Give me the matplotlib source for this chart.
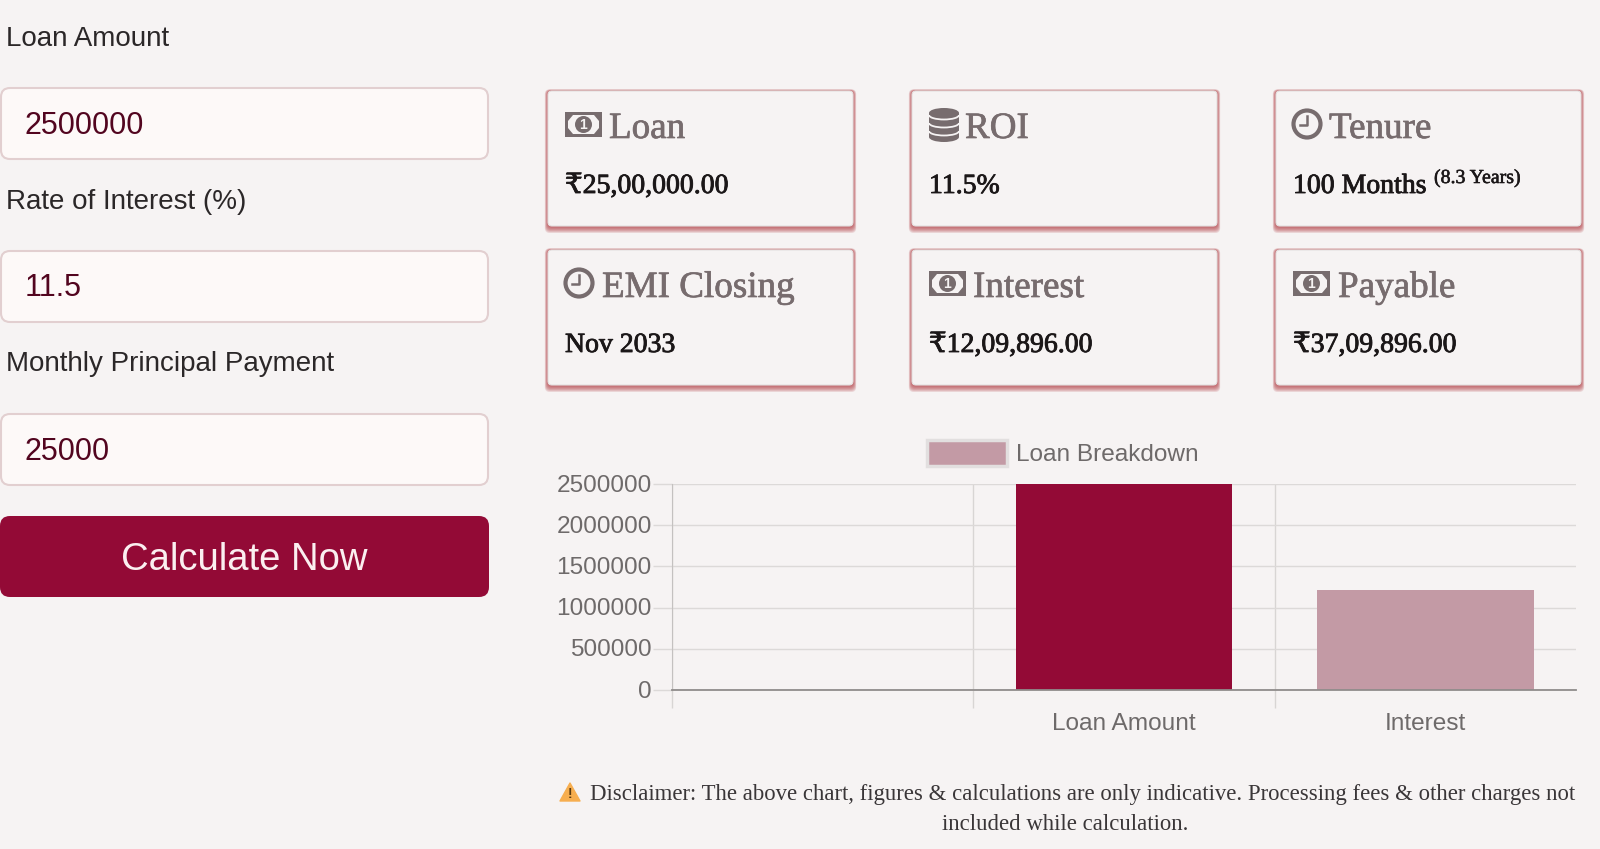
#!/usr/bin/env python3
"""Loan calculator screenshot: input form, summary cards and breakdown bar chart."""
import matplotlib
matplotlib.use("Agg")
import matplotlib.pyplot as plt
import matplotlib.patheffects as pe
from matplotlib.patches import Arc, Circle, Ellipse, FancyBboxPatch, Polygon, Rectangle
from matplotlib.transforms import ScaledTranslation

BG = "#f6f3f3"
MAROON = "#930a36"
PINK = "#c39aa5"
TITLE_GREY = "#776c6e"
VALUE_INK = "#1b1718"
SANS = ["Liberation Sans", "DejaVu Sans"]
SERIF = ["Liberation Serif", "DejaVu Serif"]

# form
FIELD_LABELS = ["Loan Amount", "Rate of Interest (%)", "Monthly Principal Payment"]
FIELD_VALUES = ["2500000", "11.5", "25000"]
BUTTON_TEXT = "Calculate Now"

# cards
CARD_TITLES = ["Loan", "ROI", "Tenure", "EMI Closing", "Interest", "Payable"]
CARD_ICONS = ["money", "db", "clock", "clock", "money", "money"]
CARD_VALUES = ["₹25,00,000.00", "11.5%", "100 Months", "Nov 2033", "₹12,09,896.00", "₹37,09,896.00"]
CARD_TITLE_X = [609, 965, 1329, 602, 973, 1338]

# chart
CATEGORIES = ["", "Loan Amount", "Interest"]
BREAKDOWN = [0, 2500000, 1209896]
BAR_COLORS = [PINK, MAROON, PINK]
Y_TICKS = [0, 500000, 1000000, 1500000, 2000000, 2500000]
LEGEND_LABEL = "Loan Breakdown"

DISCLAIMER_1 = ("Disclaimer: The above chart, figures & calculations are only indicative. "
                "Processing fees & other charges not")
DISCLAIMER_2 = "included while calculation."


def round_box(ax, x0, y0, x1, y1, r=8, **kw):
    box = FancyBboxPatch((x0, y0), x1 - x0, y1 - y0,
                         boxstyle=f"round,pad=0,rounding_size={r}", **kw)
    ax.add_patch(box)


def semi_bold(color, width):
    # the page font is a medium weight, which the installed serif does not have
    return [pe.withStroke(linewidth=width, foreground=color)]


def draw_money(ax, x, y):
    ax.add_patch(Rectangle((x, y), 37, 25, fc=TITLE_GREY, ec="none"))
    ax.add_patch(Polygon([(x + 8, y + 3), (x + 29, y + 3), (x + 34, y + 9), (x + 34, y + 16),
                          (x + 29, y + 22), (x + 8, y + 22), (x + 3, y + 16), (x + 3, y + 9)],
                         fc=BG, ec="none"))
    ax.add_patch(Circle((x + 18.5, y + 12.5), 8.5, fc=TITLE_GREY, ec="none"))
    ax.text(x + 18.5, y + 13, "1", color=BG, fontsize=10, fontweight="bold",
            ha="center", va="center", family=SANS)


def draw_clock(ax, cx, cy):
    ax.add_patch(Circle((cx, cy), 13.5, fc="none", ec=TITLE_GREY, lw=3))
    ax.plot([cx, cx, cx - 7], [cy - 8, cy + 1, cy + 1], color=TITLE_GREY, lw=1.8)


def draw_db(ax, x, y):
    ax.add_patch(Rectangle((x, y + 5), 30, 24, fc=TITLE_GREY, ec="none"))
    ax.add_patch(Ellipse((x + 15, y + 5), 30, 10, fc=TITLE_GREY, ec="none"))
    ax.add_patch(Ellipse((x + 15, y + 29), 30, 10, fc=TITLE_GREY, ec="none"))
    for dy in [7, 15, 23]:
        ax.add_patch(Arc((x + 15, y + dy), 30, 9, theta1=0, theta2=180, color=BG, lw=1.3))


def draw_card(ax, x0, y0, title, icon, value, title_x):
    x1, y1 = x0 + 305, y0 + 135
    # soft red shadow, heavier at the bottom, hardly any on top
    for i in range(7, 0, -1):
        round_box(ax, x0 - i * 0.45, y0 - i * 0.25, x1 + i * 0.45, y1 + i * 1.0, r=5,
                  fc="#b0343c", ec="none", alpha=0.16)
    round_box(ax, x0, y0, x1, y1, r=4, fc=BG, ec="#e4e1e1", lw=0.8)

    if icon == "money":
        draw_money(ax, x0 + 17, y0 + 21)
    elif icon == "clock":
        draw_clock(ax, x0 + 31, y0 + 33)
    else:
        draw_db(ax, x0 + 17, y0 + 17)
    ax.text(title_x, y0 + 47, title, color=TITLE_GREY, fontsize=26.7, family=SERIF, va="baseline",
            path_effects=semi_bold(TITLE_GREY, 0.5))
    ax.text(x0 + 17, y0 + 102, value, color=VALUE_INK, fontsize=20, family=SERIF, va="baseline",
            path_effects=semi_bold(VALUE_INK, 0.6))


def draw_form(ax):
    label_y = [39, 202, 364]
    box_y = [(88, 159), (251, 322), (414, 485)]
    for label, value, ly, (y0, y1) in zip(FIELD_LABELS, FIELD_VALUES, label_y, box_y):
        ax.text(6, ly, label, color="#2b2728", fontsize=19.95, family=SANS, va="center")
        round_box(ax, 1, y0, 488, y1, r=9, fc="#fdf9f8", ec="#e2cfd0", lw=1.5)
        ax.text(25, (y0 + y1) / 2 + 2, value, color="#52051f", fontsize=22, family=SANS, va="center")
    round_box(ax, 0, 516, 489, 597, r=10, fc=MAROON, ec="none")
    ax.text(244, 560, BUTTON_TEXT, color="#fbeff0", fontsize=27.5, family=SANS,
            ha="center", va="center")


def draw_chart(fig):
    # axes box runs from the y axis to the right edge, top tick to zero line
    chart = fig.add_axes([672 / 1600, 1 - 690 / 849, 904 / 1600, 206 / 849])
    chart.patch.set_alpha(0)
    chart.bar(range(len(CATEGORIES)), BREAKDOWN, width=0.72, color=BAR_COLORS, zorder=3)
    chart.set_xlim(-0.5, 2.5)
    chart.set_ylim(0, 2500000)

    chart.set_yticks(Y_TICKS)
    chart.set_yticklabels([str(v) for v in Y_TICKS], color="#6e6a6a", fontsize=17.6, family=SANS)
    chart.tick_params(axis="y", length=13.5, width=1, color="#dcd9d8", pad=1)
    chart.grid(axis="y", color="#dcd9d8", lw=1, zorder=0)
    lift = ScaledTranslation(0, 1 / 100, fig.dpi_scale_trans)
    for label in chart.get_yticklabels():
        label.set_transform(label.get_transform() + lift)

    chart.set_xticks([-0.5, 0.5, 1.5])
    chart.set_xticklabels([])
    chart.tick_params(axis="x", which="major", length=13, width=1, color="#d8d5d4")
    chart.grid(axis="x", color="#d8d5d4", lw=1, zorder=0)
    chart.set_xticks(range(len(CATEGORIES)), minor=True)
    chart.set_xticklabels(CATEGORIES, minor=True, color="#6e6a6a", fontsize=17.6, family=SANS)
    chart.tick_params(axis="x", which="minor", length=0, pad=16.5)

    for side in ["top", "right"]:
        chart.spines[side].set_visible(False)
    chart.spines["left"].set_color("#c4c1c0")
    chart.spines["bottom"].set_color("#8f8c8b")
    chart.spines["bottom"].set_linewidth(1.3)
    chart.spines["bottom"].set_zorder(4)


def main():
    fig = plt.figure(figsize=(16, 8.49), dpi=100, facecolor=BG)
    ax = fig.add_axes([0, 0, 1, 1])
    ax.set_xlim(0, 1600)
    ax.set_ylim(849, 0)
    ax.axis("off")

    draw_form(ax)

    card_x = [548, 912, 1276]
    card_y = [91, 250]
    for i in range(len(CARD_TITLES)):
        draw_card(ax, card_x[i % 3], card_y[i // 3], CARD_TITLES[i], CARD_ICONS[i],
                  CARD_VALUES[i], CARD_TITLE_X[i])
    ax.text(1434, 183, "(8.3 Years)", color=VALUE_INK, fontsize=14.3, family=SERIF, va="baseline",
            path_effects=semi_bold(VALUE_INK, 0.4))

    # legend, chart.js style
    ax.add_patch(Rectangle((927, 440), 80, 26, fc=PINK, ec="#e2dfdf", lw=2.5))
    ax.text(1016, 454.5, LEGEND_LABEL, color="#6e6a6a", fontsize=17.6, family=SANS, va="center")
    draw_chart(fig)

    # disclaimer
    ax.add_patch(Polygon([(570, 783), (580, 801), (560, 801)], closed=True,
                         fc="#f7ae4f", ec="#f7ae4f", lw=1, joinstyle="round"))
    ax.text(570, 794, "!", color="#5a3a10", fontsize=10, fontweight="bold",
            ha="center", va="center", family=SANS)
    ax.text(590, 800, DISCLAIMER_1, color="#3a3638", fontsize=16.35, family=SERIF, va="baseline")
    ax.text(1065, 830, DISCLAIMER_2, color="#3a3638", fontsize=16.35, family=SERIF,
            ha="center", va="baseline")

    fig.savefig("out.png", dpi=100, facecolor=BG)
    plt.close(fig)


if __name__ == "__main__":
    main()
